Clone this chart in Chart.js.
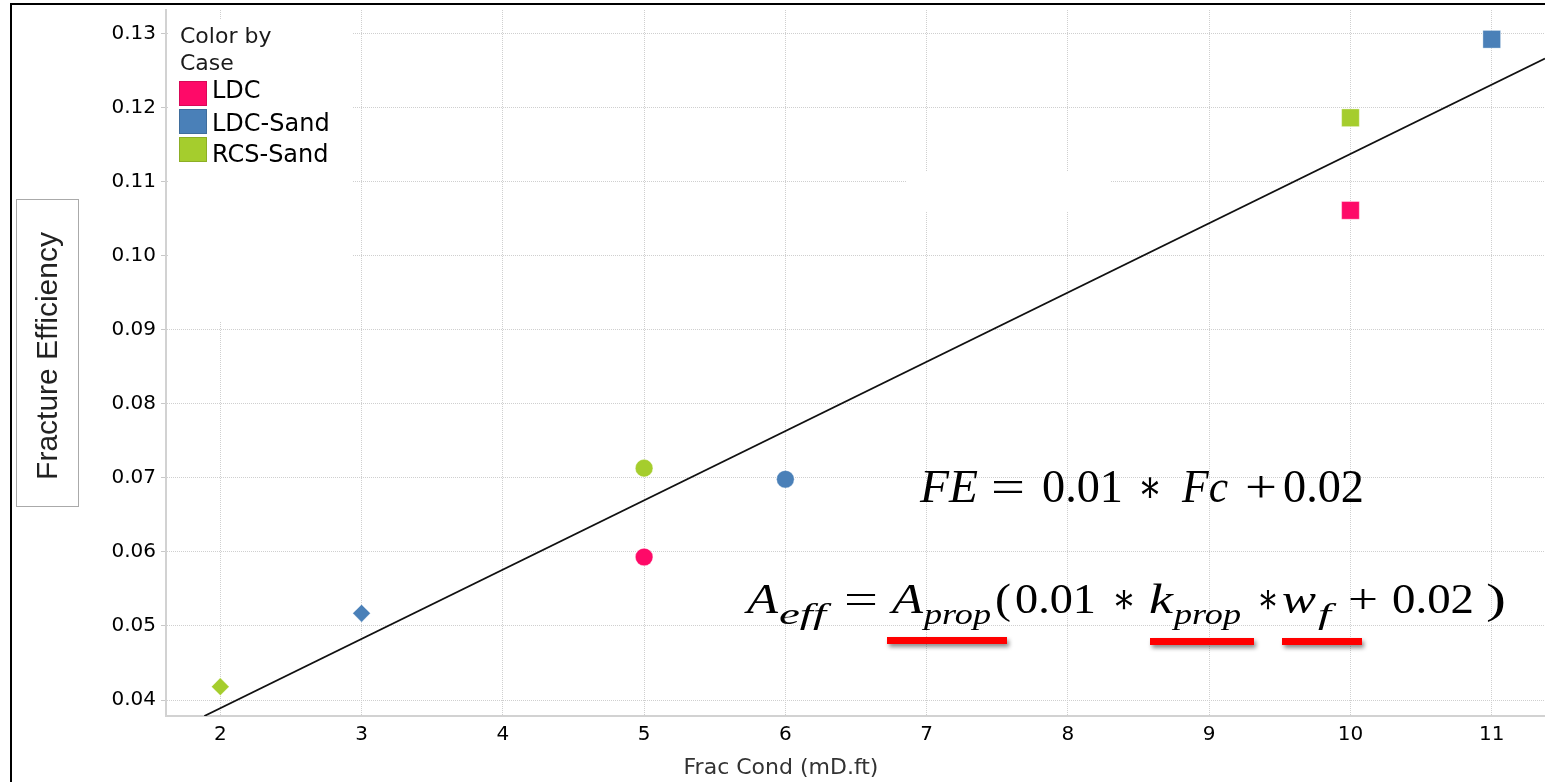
<!DOCTYPE html>
<html lang="en">
<head>
  <meta charset="utf-8">
  <title>Fracture Efficiency vs Frac Cond</title>
  <script src="https://cdn.jsdelivr.net/npm/chart.js@4.4.1/dist/chart.umd.min.js"></script>
  <style>
    body { margin: 0; background: #fff; }
    #chart { display: block; }
  </style>
</head>
<body>
<canvas id="chart" width="1545" height="782"></canvas>
<script>
// data
const caseNames = ["LDC", "LDC-Sand", "RCS-Sand"];
const caseColors = ["#fe0a68", "#4a80b8", "#a5cd2d"];

const ldcX = [5, 10];
const ldcY = [0.0593, 0.1061];
const ldcShape = ["circle", "rect"];

const ldcSandX = [3, 6, 11];
const ldcSandY = [0.0517, 0.0698, 0.1292];
const ldcSandShape = ["rectRot", "circle", "rect"];

const rcsSandX = [2, 5, 10];
const rcsSandY = [0.0418, 0.0713, 0.1186];
const rcsSandShape = ["rectRot", "circle", "rect"];

// trend line end points
const trendX = [1.887, 11.377];
const trendY = [0.03784, 0.1266];

const xTicks = [2, 3, 4, 5, 6, 7, 8, 9, 10, 11];
const yTicks = [0.04, 0.05, 0.06, 0.07, 0.08, 0.09, 0.10, 0.11, 0.12, 0.13];

const xTitle = "Frac Cond (mD.ft)";
const yTitle = "Fracture Efficiency";

function pts(xs, ys) {
  return xs.map(function (x, i) { return { x: x, y: ys[i] }; });
}
function sizeFor(shape) {
  if (shape === "rect") return 12.5;
  return 8.8;
}

const series = [
  { x: ldcX, y: ldcY, shape: ldcShape },
  { x: ldcSandX, y: ldcSandY, shape: ldcSandShape },
  { x: rcsSandX, y: rcsSandY, shape: rcsSandShape }
];

const datasets = series.map(function (s, i) {
  return {
    label: caseNames[i],
    data: pts(s.x, s.y),
    pointStyle: s.shape,
    pointRadius: s.shape.map(sizeFor),
    pointBackgroundColor: caseColors[i],
    pointBorderColor: "rgba(255,255,255,0.35)",
    pointBorderWidth: 1,
    showLine: false,
    order: 1
  };
});
datasets.push({
  label: "trend",
  data: pts(trendX, trendY),
  showLine: true,
  borderColor: "#111",
  borderWidth: 1.8,
  pointRadius: 0,
  order: 2
});

// equation pieces, each stretched between a start and end x
const eq1 = [
  { t: "FE", it: true, a: 920, b: 978 },
  { t: "=", a: 991, b: 1025 },
  { t: "0.01", a: 1042, b: 1123 },
  { t: "\u2217", a: 1138, b: 1162 },
  { t: "Fc", it: true, a: 1182, b: 1228 },
  { t: "+", a: 1245, b: 1277 },
  { t: "0.02", a: 1283, b: 1364 }
];
const eq2 = [
  { t: "A", it: true, a: 747, b: 778 },
  { t: "eff", it: true, sub: true, a: 779, b: 826 },
  { t: "=", a: 844, b: 878 },
  { t: "A", it: true, a: 892, b: 923 },
  { t: "prop", it: true, sub: true, a: 924, b: 991 },
  { t: "(", a: 995, b: 1011 },
  { t: "0.01", a: 1015, b: 1096 },
  { t: "\u2217", a: 1112, b: 1136 },
  { t: "k", it: true, a: 1149, b: 1173 },
  { t: "prop", it: true, sub: true, a: 1174, b: 1241 },
  { t: "\u2217", a: 1257, b: 1279 },
  { t: "w", it: true, a: 1282, b: 1316 },
  { t: "f", it: true, sub: true, a: 1318, b: 1331 },
  { t: "+", a: 1348, b: 1378 },
  { t: "0.02", a: 1392, b: 1474 },
  { t: ")", a: 1486, b: 1506 }
];

function drawPieces(ctx, pieces, base, size, subSize, subDy) {
  ctx.textAlign = "left";
  ctx.textBaseline = "alphabetic";
  pieces.forEach(function (p) {
    ctx.font = (p.it ? "italic " : "") + (p.sub ? subSize : size) + 'px "Liberation Serif", "DejaVu Serif", serif';
    const w = ctx.measureText(p.t).width;
    ctx.save();
    ctx.translate(p.a, base + (p.sub ? subDy : 0));
    ctx.scale((p.b - p.a) / w, 1);
    ctx.fillText(p.t, 0, 0);
    ctx.restore();
  });
}

// white patches, legend, axis titles, equations
const decor = {
  id: "decor",
  beforeDatasetsDraw(chart) {
    const ctx = chart.ctx;
    ctx.save();
    ctx.fillStyle = "#fff";
    ctx.fillRect(168, 20, 184, 302);
    ctx.fillRect(906, 172, 204, 40);
    ctx.restore();
  },
  afterDraw(chart) {
    const ctx = chart.ctx;
    ctx.save();

    // frame
    ctx.strokeStyle = "#000";
    ctx.lineWidth = 2;
    ctx.beginPath();
    ctx.moveTo(11, 782);
    ctx.lineTo(11, 4);
    ctx.lineTo(1545, 4);
    ctx.stroke();

    // x title
    ctx.fillStyle = "#333";
    ctx.font = '22px "DejaVu Sans", sans-serif';
    ctx.textAlign = "center";
    ctx.textBaseline = "alphabetic";
    ctx.fillText(xTitle, 781, 774);

    // y title box
    ctx.strokeStyle = "#aaa";
    ctx.lineWidth = 1;
    ctx.strokeRect(16.5, 199.5, 62, 307);
    ctx.save();
    ctx.translate(57, 356);
    ctx.rotate(-Math.PI / 2);
    ctx.fillStyle = "#222";
    ctx.font = '30px "Liberation Sans", Arial, sans-serif';
    ctx.fillText(yTitle, 0, 0);
    ctx.restore();

    // legend
    ctx.fillStyle = "#1a1a1a";
    ctx.font = '22px "DejaVu Sans", sans-serif';
    ctx.textAlign = "left";
    ctx.fillText("Color by", 180, 43);
    ctx.fillText("Case", 180, 70);
    const rowTop = [81, 109, 137];
    const rowBase = [98, 131, 162];
    caseNames.forEach(function (name, i) {
      ctx.fillStyle = caseColors[i];
      ctx.fillRect(179, rowTop[i], 28, 25);
      ctx.strokeStyle = "rgba(0,0,0,0.15)";
      ctx.strokeRect(179.5, rowTop[i] + 0.5, 27, 24);
      ctx.fillStyle = "#000";
      ctx.font = '24px "DejaVu Sans", sans-serif';
      ctx.fillText(name, 212, rowBase[i]);
    });

    // equations
    ctx.fillStyle = "#000";
    drawPieces(ctx, eq1, 502, 46, 30, 0);
    drawPieces(ctx, eq2, 613, 42, 29, 11);

    // red underlines
    ctx.fillStyle = "#ff0000";
    ctx.shadowColor = "rgba(0,0,0,0.45)";
    ctx.shadowBlur = 4;
    ctx.shadowOffsetX = 2;
    ctx.shadowOffsetY = 3;
    [[887, 637, 120, 7], [1150, 638, 104, 7], [1282, 638, 80, 7]].forEach(function (r) {
      ctx.fillRect(r[0], r[1], r[2], r[3]);
    });
    ctx.restore();
  }
};

new Chart(document.getElementById("chart"), {
  type: "scatter",
  data: { datasets: datasets },
  options: {
    responsive: false,
    animation: false,
    layout: { autoPadding: false, padding: { top: 10, right: 0, left: 0, bottom: 0 } },
    plugins: { legend: { display: false }, tooltip: { enabled: false } },
    scales: {
      x: {
        type: "linear",
        min: 1.6156,
        max: 11.377,
        afterFit: function (s) { s.height = 66; s.paddingLeft = 0; s.paddingRight = 0; },
        afterBuildTicks: function (s) { s.ticks = xTicks.map(function (v) { return { value: v }; }); },
        ticks: {
          font: { family: "DejaVu Sans", size: 20 },
          color: "#000",
          padding: 7,
          callback: function (v) { return String(v); }
        },
        grid: { color: "#cfcfcf", drawTicks: false },
        border: { color: "#d2d2d2", width: 2, dash: [1, 1] }
      },
      y: {
        type: "linear",
        min: 0.03784,
        max: 0.13315,
        afterFit: function (s) { s.width = 166; s.paddingTop = 0; s.paddingBottom = 0; },
        afterBuildTicks: function (s) { s.ticks = yTicks.map(function (v) { return { value: v }; }); },
        ticks: {
          font: { family: "DejaVu Sans", size: 20 },
          color: "#000",
          padding: 5,
          callback: function (v) { return v.toFixed(2); }
        },
        grid: { color: "#cfcfcf", tickLength: 5, tickColor: "#c8c8c8", tickBorderDash: [] },
        border: { color: "#d2d2d2", width: 2, dash: [1, 1] }
      }
    }
  },
  plugins: [decor]
});
</script>
</body>
</html>
